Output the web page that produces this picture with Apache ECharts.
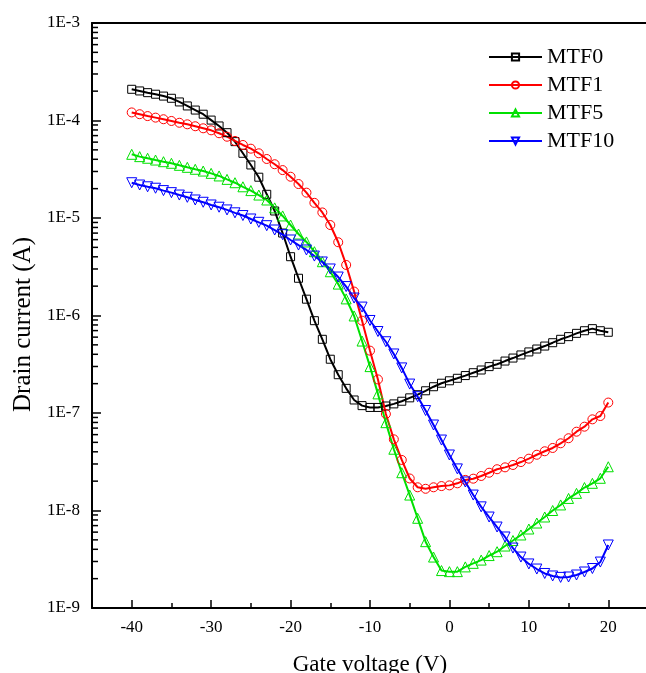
<!DOCTYPE html>
<html>
<head>
<meta charset="utf-8">
<script src="https://cdn.jsdelivr.net/npm/echarts@6/dist/echarts.min.js"></script>
<style>
html,body{margin:0;padding:0;background:#fff;}
#chart{width:646px;height:673px;}
</style>
</head>
<body>
<div id="chart"></div>
<script>
// Gate voltage (V)
const gateVoltage = [-40,-39,-38,-37,-36,-35,-34,-33,-32,-31,-30,-29,-28,-27,-26,-25,-24,-23,-22,-21,-20,-19,-18,-17,-16,-15,-14,-13,-12,-11,-10,-9,-8,-7,-6,-5,-4,-3,-2,-1,0,1,2,3,4,5,6,7,8,9,10,11,12,13,14,15,16,17,18,19,20];

const seriesNames = ['MTF0', 'MTF1', 'MTF5', 'MTF10'];

// Drain current (A)
const mtf0 = [2.09e-4,2.01e-4,1.93e-4,1.86e-4,1.78e-4,1.69e-4,1.55e-4,1.41e-4,1.28e-4,1.16e-4,
  1.01e-4,8.79e-5,7.50e-5,6.07e-5,4.61e-5,3.50e-5,2.62e-5,1.75e-5,1.18e-5,7.01e-6,
  4.01e-6,2.41e-6,1.47e-6,8.85e-7,5.70e-7,3.56e-7,2.47e-7,1.79e-7,1.36e-7,1.19e-7,
  1.14e-7,1.14e-7,1.18e-7,1.24e-7,1.32e-7,1.43e-7,1.54e-7,1.69e-7,1.86e-7,2.02e-7,
  2.14e-7,2.27e-7,2.42e-7,2.59e-7,2.76e-7,2.99e-7,3.16e-7,3.41e-7,3.66e-7,3.94e-7,
  4.23e-7,4.53e-7,4.86e-7,5.26e-7,5.70e-7,6.07e-7,6.56e-7,6.98e-7,7.33e-7,6.98e-7,6.73e-7];

const mtf1 = [1.21e-4,1.16e-4,1.11e-4,1.07e-4,1.03e-4,9.89e-5,9.48e-5,9.14e-5,8.73e-5,8.32e-5,
  7.93e-5,7.40e-5,6.82e-5,6.17e-5,5.61e-5,5.14e-5,4.61e-5,4.03e-5,3.56e-5,3.10e-5,
  2.65e-5,2.23e-5,1.82e-5,1.43e-5,1.14e-5,8.47e-6,5.64e-6,3.30e-6,1.76e-6,8.85e-7,
  4.36e-7,2.21e-7,9.77e-8,5.37e-8,3.30e-8,2.13e-8,1.73e-8,1.67e-8,1.73e-8,1.78e-8,
  1.81e-8,1.90e-8,2.06e-8,2.12e-8,2.26e-8,2.44e-8,2.65e-8,2.77e-8,2.93e-8,3.14e-8,
  3.40e-8,3.73e-8,4.05e-8,4.38e-8,4.89e-8,5.51e-8,6.43e-8,7.24e-8,8.61e-8,9.31e-8,1.28e-7];

const mtf5 = [4.50e-5,4.26e-5,4.10e-5,3.93e-5,3.78e-5,3.64e-5,3.47e-5,3.31e-5,3.16e-5,3.03e-5,
  2.87e-5,2.70e-5,2.49e-5,2.30e-5,2.09e-5,1.91e-5,1.72e-5,1.53e-5,1.27e-5,1.05e-5,
  8.47e-6,6.85e-6,5.68e-6,4.51e-6,3.56e-6,2.81e-6,2.10e-6,1.48e-6,9.89e-7,5.47e-7,
  2.99e-7,1.57e-7,7.96e-8,4.25e-8,2.44e-8,1.44e-8,8.32e-9,4.79e-9,3.33e-9,2.42e-9,
  2.36e-9,2.36e-9,2.64e-9,2.87e-9,3.10e-9,3.45e-9,3.78e-9,4.32e-9,4.92e-9,5.61e-9,
  6.46e-9,7.44e-9,8.58e-9,1.00e-8,1.14e-8,1.33e-8,1.50e-8,1.72e-8,1.90e-8,2.14e-8,2.81e-8];

const mtf10 = [2.30e-5,2.18e-5,2.09e-5,2.02e-5,1.91e-5,1.82e-5,1.72e-5,1.63e-5,1.53e-5,1.45e-5,
  1.36e-5,1.29e-5,1.21e-5,1.13e-5,1.06e-5,9.77e-6,9.03e-6,8.34e-6,7.53e-6,6.75e-6,
  5.95e-6,5.28e-6,4.70e-6,4.07e-6,3.54e-6,3.00e-6,2.48e-6,1.98e-6,1.51e-6,1.22e-6,
  8.89e-7,6.85e-7,5.38e-7,4.03e-7,2.90e-7,1.98e-7,1.47e-7,1.06e-7,7.53e-8,5.28e-8,
  3.71e-8,2.67e-8,1.96e-8,1.44e-8,1.09e-8,8.57e-9,6.77e-9,5.35e-9,4.12e-9,3.33e-9,
  2.83e-9,2.51e-9,2.26e-9,2.13e-9,2.06e-9,2.08e-9,2.18e-9,2.34e-9,2.54e-9,2.96e-9,4.43e-9];

// Axis ranges / tick definitions
const xRange = [-45, 25];
const yRange = [1e-9, 1e-3];
const yMinorMultipliers = [2,3,4,5,6,7,8,9];
const yDecades = [1e-9, 1e-8, 1e-7, 1e-6, 1e-5, 1e-4];

const FONT = "'Liberation Serif', 'Times New Roman', serif";

function pairs(ys) { return gateVoltage.map((x, i) => [x, ys[i]]); }

const yMinorTicks = [];
yDecades.forEach(d => yMinorMultipliers.forEach(m => yMinorTicks.push([xRange[0], d * m])));

const chart = echarts.init(document.getElementById('chart'), null, {renderer: 'canvas'});

function lineSeries(name, data, color, symbol, size, rotate) {
  return {
    name: name,
    type: 'line',
    data: pairs(data),
    symbol: symbol,
    symbolSize: size,
    symbolRotate: rotate || 0,
    showAllSymbol: true,
    lineStyle: {color: color, width: 2},
    itemStyle: {color: 'rgba(255,255,255,0)', borderColor: color, borderWidth: 1},
    emphasis: {disabled: true},
    animation: false,
    z: 3
  };
}

const option = {
  backgroundColor: '#fff',
  animation: false,
  grid: {left: 92, top: 23, right: -2, bottom: 65, containLabel: false, outerBoundsMode: 'none'},
  legend: {
    data: seriesNames,
    orient: 'vertical',
    left: 483,
    top: 41,
    itemWidth: 53,
    itemHeight: 9,
    itemGap: 6,
    textStyle: {fontFamily: FONT, fontSize: 22, color: '#000'},
    selectedMode: false
  },
  xAxis: [{
    type: 'value',
    min: xRange[0],
    max: xRange[1],
    splitNumber: 7,
    name: 'Gate voltage (V)',
    nameLocation: 'middle',
    nameGap: 45,
    nameTextStyle: {fontFamily: FONT, fontSize: 23, color: '#000'},
    axisLine: {show: true, onZero: false, lineStyle: {color: '#000', width: 2}},
    axisTick: {show: true, inside: true, length: 8, lineStyle: {color: '#000', width: 1.5}},
    minorTick: {show: true, splitNumber: 2, length: 5, lineStyle: {color: '#000', width: 1.5}},
    axisLabel: {
      fontFamily: FONT, fontSize: 17, color: '#000', margin: 11,
      showMinLabel: false, showMaxLabel: false,
      formatter: v => (v % 10 === 0 ? String(v) : '')
    },
    splitLine: {show: false}
  }, {
    type: 'value',
    position: 'top',
    min: xRange[0],
    max: xRange[1],
    axisLine: {show: true, onZero: false, lineStyle: {color: '#000', width: 2}},
    axisTick: {show: false},
    axisLabel: {show: false},
    splitLine: {show: false}
  }],
  yAxis: {
    type: 'log',
    logBase: 10,
    min: yRange[0],
    max: yRange[1],
    splitNumber: 6,
    name: 'Drain current (A)',
    nameLocation: 'middle',
    nameGap: 56,
    nameTextStyle: {fontFamily: FONT, fontSize: 25, color: '#000', padding: [0, 18, 0, 0]},
    axisLine: {show: true, onZero: false, lineStyle: {color: '#000', width: 2}},
    axisTick: {show: true, inside: true, length: 9, lineStyle: {color: '#000', width: 1.5}},
    axisLabel: {
      fontFamily: FONT, fontSize: 17, color: '#000', margin: 12,
      formatter: v => '1E' + Math.round(Math.log10(v))
    },
    splitLine: {show: false}
  },
  series: [
    lineSeries('MTF0', mtf0, '#000000', 'rect', 8),
    lineSeries('MTF1', mtf1, '#ff0000', 'circle', 9),
    lineSeries('MTF5', mtf5, '#00e000', 'triangle', 10),
    lineSeries('MTF10', mtf10, '#0000ff', 'triangle', 10, 180),
    {
      name: 'yMinor',
      type: 'custom',
      data: yMinorTicks,
      silent: true,
      animation: false,
      clip: false,
      z: 5,
      renderItem: function (params, api) {
        const p = api.coord([api.value(0), api.value(1)]);
        return {
          type: 'line',
          shape: {x1: p[0], y1: p[1], x2: p[0] + 6, y2: p[1]},
          style: {stroke: '#000', lineWidth: 1.5}
        };
      }
    }
  ]
};

chart.setOption(option);
</script>
</body>
</html>
